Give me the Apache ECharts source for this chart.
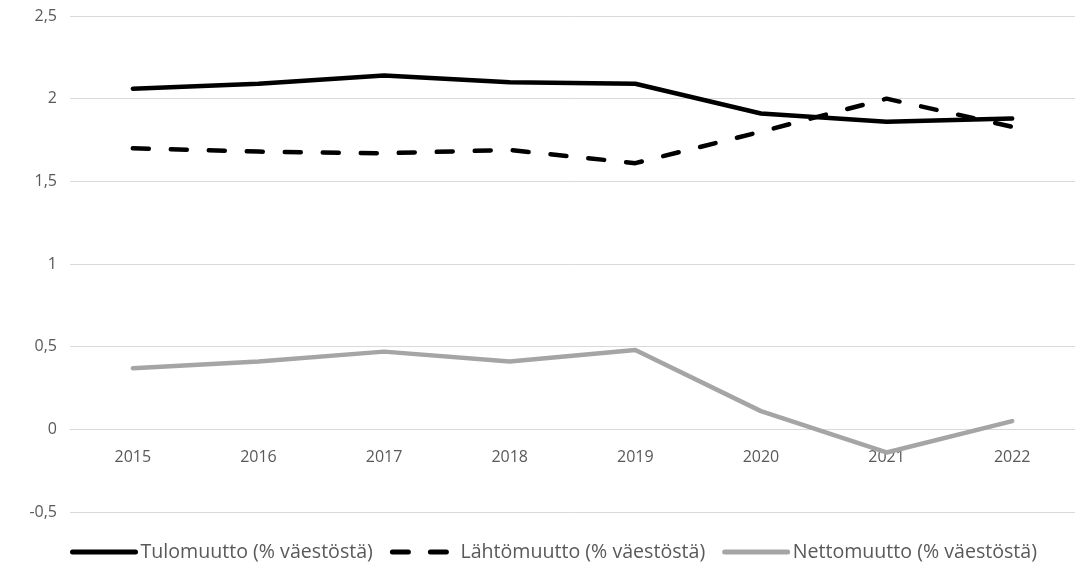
<!DOCTYPE html>
<html>
<head>
<meta charset="utf-8">
<script src="https://cdn.jsdelivr.net/npm/echarts@6/dist/echarts.min.js"></script>
<style>html,body{margin:0;padding:0;background:#fff}#c{width:1075px;height:570px}</style>
</head>
<body>
<div id="c"></div>
<script>
const years = ['2015','2016','2017','2018','2019','2020','2021','2022'];
const tulomuutto = [2.06, 2.09, 2.14, 2.10, 2.09, 1.91, 1.86, 1.88];
const lahtomuutto = [1.70, 1.68, 1.67, 1.69, 1.61, 1.80, 2.00, 1.83];
const nettomuutto = [0.37, 0.41, 0.47, 0.41, 0.48, 0.11, -0.14, 0.05];
const seriesNames = ['Tulomuutto (% väestöstä)', 'Lähtömuutto (% väestöstä)', 'Nettomuutto (% väestöstä)'];
const yMin = -0.5, yMax = 2.5, yStep = 0.5;

const font = 'Open Sans';
const gridTop = 16, gridBottom = 58, H = 570;
const plotH = H - gridTop - gridBottom;
// move the category axis up to the zero line
const zeroOffset = -plotH * (0 - yMin) / (yMax - yMin);

const chart = echarts.init(document.getElementById('c'));
chart.setOption({
  animation: false,
  textStyle: { fontFamily: font },
  grid: { left: 70, right: 0, top: gridTop, bottom: gridBottom, containLabel: false },
  legend: {
    bottom: 3, left: 65,
    itemWidth: 63, itemHeight: 12, itemGap: 17,
    itemStyle: { opacity: 0 },
    lineStyle: { width: 5, cap: 'round' },
    textStyle: { fontFamily: font, fontSize: 19.6, color: '#595959' },
    data: seriesNames
  },
  xAxis: {
    type: 'category', data: years, boundaryGap: true,
    position: 'bottom', offset: zeroOffset,
    axisLine: { show: true, onZero: false, lineStyle: { color: '#d9d9d9', width: 1 } },
    axisTick: { show: false },
    axisLabel: { fontFamily: font, fontSize: 16, color: '#595959', margin: 20 },
    splitLine: { show: false }
  },
  yAxis: {
    type: 'value', min: yMin, max: yMax, interval: yStep,
    axisLine: { show: false }, axisTick: { show: false },
    axisLabel: { fontFamily: font, fontSize: 16, color: '#595959', margin: 13,
      formatter: v => String(v).replace('.', ',') },
    splitLine: { lineStyle: { color: '#d9d9d9', width: 1 } }
  },
  series: [
    { name: seriesNames[0], type: 'line', data: tulomuutto, symbol: 'none', z: 3,
      lineStyle: { color: '#000', width: 4.5, cap: 'round', join: 'round' }, itemStyle: { color: '#000' } },
    { name: seriesNames[1], type: 'line', data: lahtomuutto, symbol: 'none', z: 3,
      lineStyle: { color: '#000', width: 4.5, type: [16, 22], cap: 'round', join: 'round' }, itemStyle: { color: '#000' } },
    { name: seriesNames[2], type: 'line', data: nettomuutto, symbol: 'none', z: 3,
      lineStyle: { color: '#a5a5a5', width: 4.5, cap: 'round', join: 'round' }, itemStyle: { color: '#a5a5a5' } }
  ]
});
</script>
</body>
</html>
